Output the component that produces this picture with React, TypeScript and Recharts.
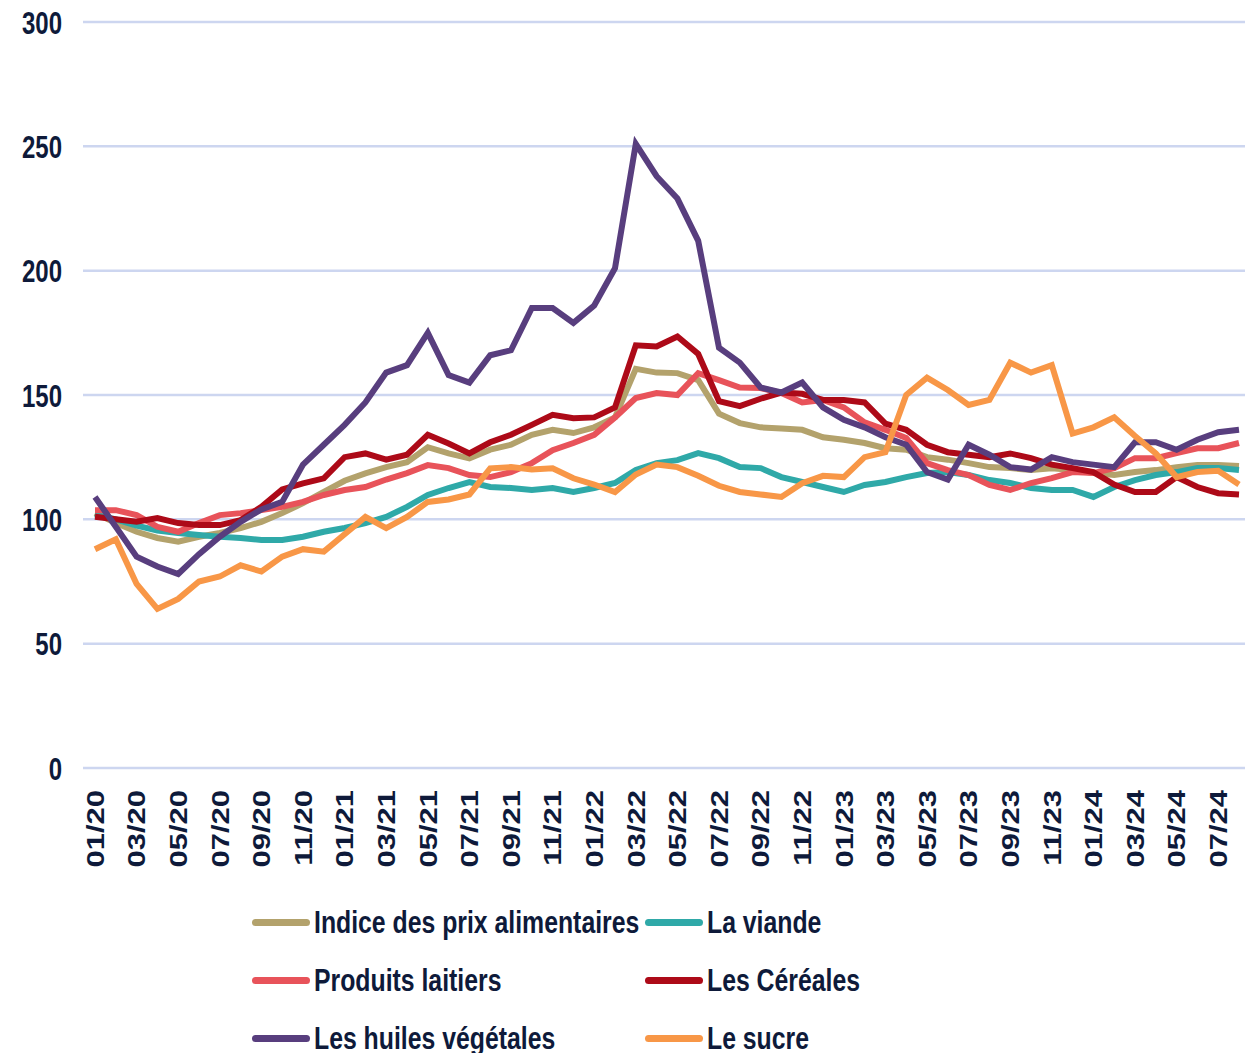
import React from 'react';
import {
  LineChart,
  Line,
  XAxis,
  YAxis,
  CartesianGrid,
  Legend,
} from 'recharts';

const months = [
  '01/20', '02/20', '03/20', '04/20', '05/20', '06/20', '07/20', '08/20', '09/20', '10/20', '11/20', '12/20',
  '01/21', '02/21', '03/21', '04/21', '05/21', '06/21', '07/21', '08/21', '09/21', '10/21', '11/21', '12/21',
  '01/22', '02/22', '03/22', '04/22', '05/22', '06/22', '07/22', '08/22', '09/22', '10/22', '11/22', '12/22',
  '01/23', '02/23', '03/23', '04/23', '05/23', '06/23', '07/23', '08/23', '09/23', '10/23', '11/23', '12/23',
  '01/24', '02/24', '03/24', '04/24', '05/24', '06/24', '07/24', '08/24',
];

const indice = [
  102.5, 98.5, 95, 92.5, 91, 93, 94.5, 96.5, 99, 102.5, 106.5, 111,
  115.5, 118.5, 121, 123, 129, 126.5, 124.5, 128, 130, 134, 136, 134.7,
  137, 141, 160.5, 159, 158.8, 156, 142.5, 138.7, 137, 136.5, 136, 133,
  132, 130.7, 128.6, 128, 125, 124, 122.6, 121, 120.6, 119.8, 120.5, 119.8,
  118.6, 117.8, 119, 119.8, 121, 121.8, 121.8, 121.4,
];
const viande = [
  102, 100, 97.5, 95.5, 94.5, 93.7, 93, 92.5, 91.7, 91.7, 93, 95,
  96.5, 98.5, 101, 105, 109.8, 112.6, 115, 113, 112.6, 111.8, 112.6, 111,
  112.6, 114.6, 119.8, 122.6, 123.8, 126.6, 124.6, 121, 120.6, 117, 115, 113,
  111, 113.8, 115, 117, 118.6, 119, 117.8, 115.8, 114.6, 112.6, 111.8, 111.8,
  109, 113, 115.8, 117.8, 119, 120.6, 120.6, 119.8,
];
const laitiers = [
  103.7, 103.7, 101.7, 97, 95, 98.5, 101.7, 102.5, 103.7, 105, 107, 109.8,
  111.8, 113, 116, 118.6, 121.8, 120.6, 117.8, 117, 119, 122.6, 127.8, 130.7,
  134, 141, 148.8, 150.8, 150, 158.8, 156, 153, 152.8, 150.8, 147, 148,
  145, 139, 136, 132.7, 122.6, 119.8, 117.8, 113.8, 111.8, 114.6, 116.6, 119,
  118.6, 120.6, 124.6, 124.6, 126.6, 128.6, 128.6, 130.7,
];
const cereales = [
  101, 100, 99, 100.5, 98.5, 97.7, 97.7, 99.7, 105, 112, 114.5, 116.5,
  125, 126.5, 124, 126, 134, 130.5, 126.5, 131, 134, 138, 142, 140.7,
  141, 145, 170, 169.5, 173.5, 166.5, 147.5, 145.5, 148.5, 151, 150.5, 148,
  148, 147, 138.5, 136, 130, 127, 126, 125, 126.5, 124.6, 122, 120.6,
  119, 114, 111, 111, 117, 113, 110.5, 110,
];
const huiles = [
  109, 97, 85, 81, 78, 86, 93, 99, 104, 107, 122, 130,
  138, 147, 159, 162, 175, 158, 155, 166, 168, 185, 185, 179,
  186, 201, 251, 238, 229, 212, 169, 163, 153, 151, 155, 145,
  140, 137, 133, 130, 119, 116, 130, 126, 121, 120, 125, 123,
  122, 121, 131, 131, 128, 132, 135, 136,
];
const sucre = [
  88, 92, 74, 64, 68, 75, 77, 81.5, 79, 85, 88, 87,
  94, 101, 96.5, 101, 107, 108, 110, 120.5, 121, 120, 120.5, 116.5,
  114, 111, 118, 122, 121, 117.5, 113.5, 111, 110, 109, 114.5, 117.5,
  117, 125, 127, 150, 157, 152, 146, 148, 163, 159, 162, 134.5,
  137, 141, 133.5, 126.5, 117, 119, 119.5, 114,
];

const yTicks = [0, 50, 100, 150, 200, 250, 300];

const series = [
  { key: 'indice', name: 'Indice des prix alimentaires', color: '#b3a26c', values: indice },
  { key: 'viande', name: 'La viande', color: '#2fa9a8', values: viande },
  { key: 'laitiers', name: 'Produits laitiers', color: '#e8535a', values: laitiers },
  { key: 'cereales', name: 'Les Céréales', color: '#ad0a18', values: cereales },
  { key: 'huiles', name: 'Les huiles végétales', color: '#583e7e', values: huiles },
  { key: 'sucre', name: 'Le sucre', color: '#f89747', values: sucre },
];

const data = months.map((m, i) => {
  const row: any = { month: m };
  series.forEach((s) => {
    row[s.key] = s.values[i];
  });
  return row;
});

const FONT = '"Liberation Sans", Arial, sans-serif';
const INK = '#0e1a3a';

const XTick = ({ x, y, payload }: any) => (
  <g transform={`translate(${x},${y})`}>
    <text
      transform="scale(0.78,1) rotate(-90)"
      textAnchor="end"
      dy="0.36em"
      fontFamily={FONT}
      fontWeight="bold"
      fontSize={31}
      fill={INK}
    >
      {payload.value}
    </text>
  </g>
);

const YTick = ({ x, y, payload }: any) => (
  <g transform={`translate(${x},${y})`}>
    <text
      transform="scale(0.75,1)"
      textAnchor="end"
      dy="0.36em"
      fontFamily={FONT}
      fontWeight="bold"
      fontSize={32}
      fill={INK}
    >
      {payload.value}
    </text>
  </g>
);

const renderLegend = () => (
  <div style={{ position: 'relative', width: 1255, height: 165 }}>
    {series.map((s, i) => {
      const col = i % 2;
      const row = Math.floor(i / 2);
      return (
        <div
          key={s.key}
          style={{
            position: 'absolute',
            left: 252 + col * 393,
            top: 5 + row * 58,
            height: 58,
            display: 'flex',
            alignItems: 'center',
            whiteSpace: 'nowrap',
          }}
        >
          <div
            style={{
              width: 58,
              height: 7,
              borderRadius: 4,
              background: s.color,
              marginRight: 4,
            }}
          />
          <span
            style={{
              display: 'inline-block',
              fontFamily: FONT,
              fontWeight: 'bold',
              fontSize: 32,
              color: INK,
              transform: 'scaleX(0.775)',
              transformOrigin: 'left center',
            }}
          >
            {s.name}
          </span>
        </div>
      );
    })}
  </div>
);

export default function App() {
  return (
    <div
      style={{
        position: 'absolute',
        left: 0,
        top: 0,
        width: 1255,
        height: 1053,
        overflow: 'hidden',
        background: '#fff',
      }}
    >
      <LineChart
        width={1255}
        height={1053}
        data={data}
        margin={{ top: 22, right: 10, bottom: 0, left: 13 }}
      >
        <CartesianGrid stroke="#cdd6f0" strokeWidth={2.5} vertical={false} />
        <XAxis
          dataKey="month"
          interval={1}
          axisLine={false}
          tickLine={false}
          tickMargin={16}
          height={120}
          padding={{ left: 12, right: 6 }}
          tick={<XTick />}
        />
        <YAxis
          domain={[0, 300]}
          ticks={yTicks}
          axisLine={false}
          tickLine={false}
          tickMargin={15}
          width={70}
          tick={<YTick />}
        />
        <Legend
          verticalAlign="bottom"
          content={renderLegend}
          wrapperStyle={{ left: 0, top: 888, width: 1255, height: 165 }}
        />
        {series.map((s) => (
          <Line
            key={s.key}
            type="linear"
            dataKey={s.key}
            name={s.name}
            stroke={s.color}
            strokeWidth={6}
            dot={false}
            isAnimationActive={false}
          />
        ))}
      </LineChart>
    </div>
  );
}
